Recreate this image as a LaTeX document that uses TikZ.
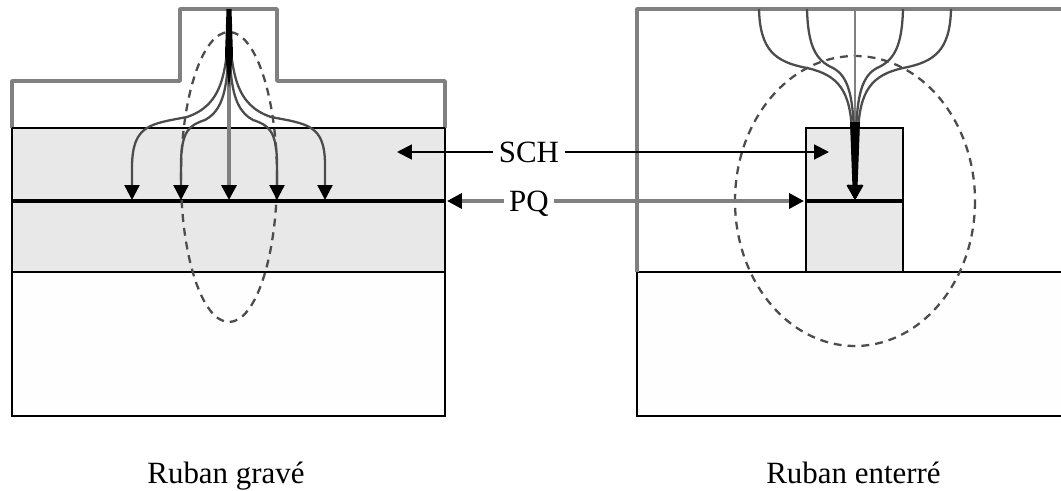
\documentclass[tikz,border=0pt]{standalone}
\usepackage{fontspec}
\setmainfont{Liberation Serif}
\usetikzlibrary{arrows.meta}
\tikzset{
  contour/.style={draw=black!50,line width=2pt,line join=round},
  bord/.style={draw=black,line width=1.1pt},
  couche/.style={bord,fill=black!9},
  puits/.style={black,line width=2.4pt},
  mode/.style={draw=black!70,line width=1.3pt,dash pattern=on 4.5pt off 3.4pt},
  pointe/.style={-{Triangle[length=8.5pt,width=8.5pt,color=black]}},
  ligne/.style={black!70,line width=1.3pt,pointe},
  repere/.style={font=\fontsize{17.6}{18}\selectfont,inner sep=3pt,text height=11.5pt,text depth=0pt},
  titre/.style={font=\fontsize{17.6}{18}\selectfont,inner sep=0pt,anchor=base}
}
\begin{document}
\begin{tikzpicture}[x=0.02cm,y=-0.02cm]
  \useasboundingbox (0,0) rectangle (1061,490);
  % ruban grave
  \draw[couche] (12,128) rectangle (445,272);
  \draw[bord,fill=black!0.5] (12,272) rectangle (445,416);
  \draw[contour] (12,128) -- (12,81) -- (180,81) -- (180,9) -- (277,9) -- (277,81) -- (445,81) -- (445,128);
  \draw[bord] (12,128) -- (445,128);
  \draw[puits] (12,201) -- (445,201);
  \draw[mode] (229,177) ellipse (48 and 145);
  % ruban enterre
  \draw[bord,fill=black!0.5] (1061,272) -- (637,272) -- (637,416) -- (1061,416);
  \draw[couche] (806,128) rectangle (903,272);
  \draw[contour] (637,272) -- (637,9) -- (1061,9);
  \draw[puits] (806,201) -- (903,201);
  \draw[mode] (855,201) ellipse (120 and 145);
  % lignes de courant, gauche
  \coordinate (srcG) at (229,9);
  \coordinate (g1) at (132,200);
  \coordinate (g2) at (181,200);
  \coordinate (g3) at (229,200);
  \coordinate (g4) at (277,200);
  \coordinate (g5) at (325,200);
  \draw[ligne,black!50,line width=1.9pt] (srcG) -- (g3);
  \draw[ligne] (srcG) .. controls (228,75) and (222,105) .. (187,117) .. controls (150,124) and (133,125) .. (132,165) -- (g1);
  \draw[ligne] (srcG) .. controls (229,80) and (227,108) .. (205,120) .. controls (190,125) and (181,130) .. (181,165) -- (g2);
  \draw[ligne] (srcG) .. controls (229,80) and (231,108) .. (253,120) .. controls (268,125) and (277,130) .. (277,165) -- (g4);
  \draw[ligne] (srcG) .. controls (230,75) and (236,105) .. (271,117) .. controls (308,124) and (325,125) .. (325,165) -- (g5);
  \fill[black] (226.5,9) -- (231.5,9) -- (233,55) -- (229,88) -- (225,55) -- cycle;
  % lignes de courant, droite
  \coordinate (d1) at (759,9);
  \coordinate (d2) at (807,9);
  \coordinate (d3) at (855,9);
  \coordinate (d4) at (903,9);
  \coordinate (d5) at (951,9);
  \coordinate (cible) at (855,200);
  \draw[ligne,black!50] (d3) -- (cible);
  \draw[ligne] (d1) .. controls (760,50) and (775,62) .. (807,68) .. controls (838,75) and (851,90) .. (852,135) -- (cible);
  \draw[ligne] (d2) .. controls (808,45) and (815,60) .. (833,68) .. controls (848,76) and (853,95) .. (854,135) -- (cible);
  \draw[ligne] (d4) .. controls (902,45) and (895,60) .. (877,68) .. controls (862,76) and (857,95) .. (856,135) -- (cible);
  \draw[ligne] (d5) .. controls (950,50) and (935,62) .. (903,68) .. controls (872,75) and (859,90) .. (858,135) -- (cible);
  \fill[black] (850,122) -- (860,122) -- (857.5,188) -- (852.5,188) -- cycle;
  % reperes
  \node[repere] (sch) at (529,152) {SCH};
  \node[repere] (pq) at (529,201) {PQ};
  \coordinate (schG) at (397,152);
  \coordinate (schD) at (829,152);
  \coordinate (pqG) at (447,201);
  \coordinate (pqD) at (804,201);
  \draw[pointe,black,line width=1.1pt] (sch) -- (schG);
  \draw[pointe,black,line width=1.1pt] (sch) -- (schD);
  \draw[pointe,black!50,line width=2pt] (pq) -- (pqG);
  \draw[pointe,black!50,line width=2pt] (pq) -- (pqD);
  % titres
  \node[titre] (grave) at (226,483) {Ruban gravé};
  \node[titre] (enterre) at (853.5,483) {Ruban enterré};
\end{tikzpicture}
\end{document}
